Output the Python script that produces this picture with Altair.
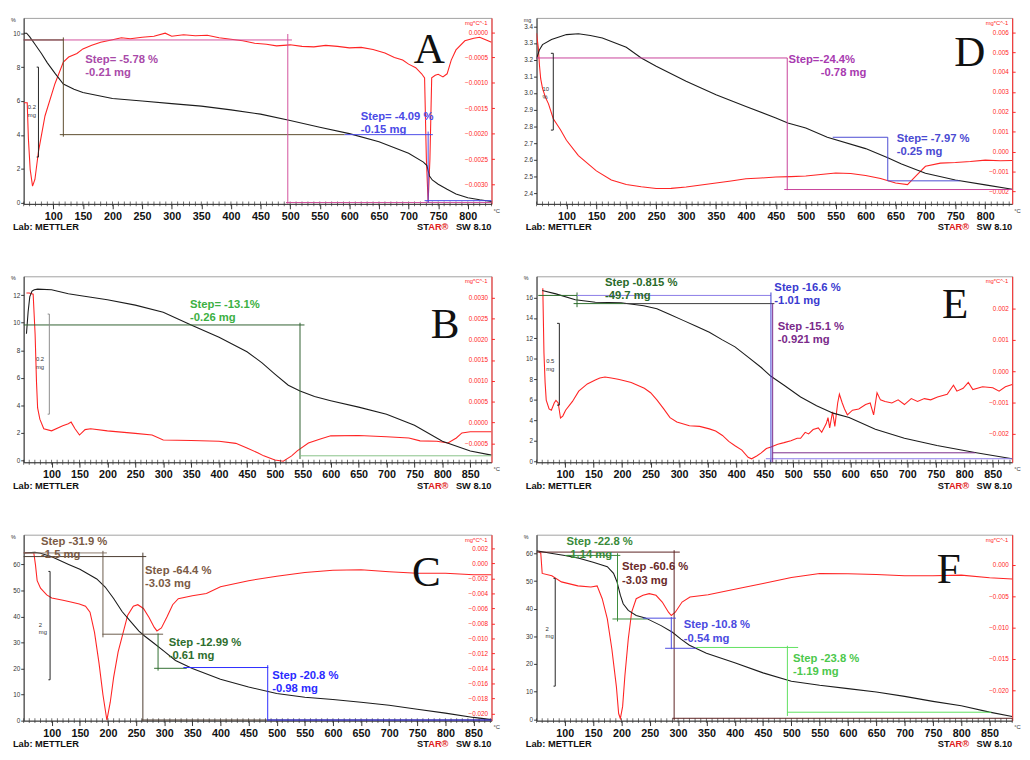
import altair as alt
import pandas as pd

WL, WR, H = 478, 486, 190

# ---------------- Panel A ----------------
A_TG_T = [50,55,60,70,80,90,103,117,135,150,200,250,300,350,400,450,500,550,600,650,700,725,731,735,740,750,765,780,800,820,840]
A_TG_V = [10.0,10.0,9.8,9.3,8.8,8.25,7.63,7.0,6.7,6.5,6.15,6.0,5.85,5.7,5.48,5.23,4.85,4.46,4.08,3.6,2.92,2.4,2.2,1.6,1.35,1.1,0.8,0.52,0.3,0.18,0.08]
A_DTG_T = [50,56,58,61,65,69,75,86,103,117,126,140,150,165,180,200,215,230,250,270,289,300,320,340,360,380,400,420,440,460,477,500,520,540,560,580,600,620,640,660,676,690,700,712,722,727,730,733,736,739,745,750,758,765,772,780,795,810,820,830,840]
A_DTG_V = [-0.00139,-0.00139,-0.0021,-0.0027,-0.00303,-0.0029,-0.00235,-0.00165,-0.00101,-0.00059,-0.00049,-0.00042,-0.00033,-0.00026,-0.0002,-0.00015,-0.00011,-0.00013,-0.0001,-0.00008,-0.00002,-0.00008,-0.00005,-0.00007,-0.00006,-0.00011,-0.00014,-0.00017,-0.00022,-0.00024,-0.00027,-0.00025,-0.00028,-0.00029,-0.00026,-0.00028,-0.00031,-0.0003,-0.00034,-0.00041,-0.0005,-0.00055,-0.00063,-0.0007,-0.00082,-0.0009,-0.0025,-0.00335,-0.0025,-0.0009,-0.00085,-0.00083,-0.00088,-0.00082,-0.00055,-0.00035,-0.00017,-0.00012,-0.0001,-0.00015,-0.0002]
A_SEGS = [(50,9.6,503,9.6,'a_mag'),(50,9.6,117,9.6,'a_olive'),(117,9.75,117,3.9,'a_olive'),(111,4.02,592,4.02,'a_olive'),
          (496,9.95,496,-0.06,'a_mag'),(493,0.02,840,0.02,'a_mag'),(592,4.02,741,4.02,'blue'),(733,4.2,733,0.0,'blue'),
          (727,0.13,840,0.13,'blue'),(75,8.0,75,2.7,'blk'),(72,8.0,75,8.0,'blk'),(72,2.7,75,2.7,'blk')]
A_TEXTS = [(154,8.79,'Step= -5.78 %\n-0.21 mg','a_magtxt'),(619,5.42,'Step= -4.09 %\n-0.15 mg','blue')]
A_SMALL = [(57,5.8,'0.2\nmg')]
A_LETTER = [(735,8.98,'A')]

# ---------------- Panel D ----------------
D_TG_T = [50,55,60,75,100,120,140,160,200,225,250,300,350,400,450,470,500,536,600,637,660,700,750,800,845]
D_TG_V = [3.206,3.26,3.29,3.32,3.35,3.355,3.345,3.33,3.274,3.21,3.16,3.07,2.99,2.92,2.85,2.82,2.79,2.735,2.667,2.612,2.575,2.52,2.479,2.45,2.424]
D_DTG_T = [50,53,55,57,60,65,70,78,90,100,120,150,175,200,225,250,275,300,325,350,375,400,425,450,475,500,525,550,575,600,625,650,670,685,700,725,750,775,800,825,845]
D_DTG_V = [0.00595,0.0052,0.0043,0.00365,0.00318,0.00272,0.0024,0.00165,0.0011,0.00057,-0.0002,-0.00097,-0.00143,-0.00166,-0.00177,-0.00186,-0.00185,-0.00178,-0.00168,-0.00158,-0.00148,-0.00137,-0.00133,-0.00128,-0.00126,-0.00123,-0.00115,-0.00108,-0.0011,-0.0012,-0.00135,-0.00158,-0.00166,-0.0012,-0.00074,-0.00058,-0.00055,-0.0005,-0.00043,-0.00046,-0.00045]
D_SEGS = [(50,3.21,469,3.21,'d_mag'),(469,3.21,469,2.418,'d_mag'),(464,2.422,845,2.422,'d_mag'),
          (545,2.735,637,2.735,'d_blue'),(637,2.735,637,2.474,'d_blue'),(637,2.474,757,2.474,'d_blue'),
          (78,3.238,78,2.778,'blk'),(74,3.238,78,3.238,'blk'),(74,2.778,78,2.778,'blk')]
D_TEXTS = [(471,3.232,'Step=-24.4%','d_magtxt'),(525,3.155,'-0.78 mg','d_magtxt'),(652,2.76,'Step= -7.97 %\n-0.25 mg','d_blue')]
D_SMALL = [(60,3.04,'10\n%')]
D_LETTER = [(774,3.24,'D')]

# ---------------- Panel B ----------------
B_TG_T = [55,58,61,65,69,75,100,130,150,200,250,300,350,400,450,477,500,524,545,571,600,650,700,750,800,850,888]
B_TG_V = [9.2,10.8,11.9,12.3,12.4,12.44,12.4,12.1,11.98,11.67,11.28,10.77,9.84,8.95,7.9,7.09,6.28,5.47,5.05,4.65,4.35,3.88,3.37,2.56,1.4,0.7,0.4]
B_DTG_T = [55,60,67,70.5,73,75,79,86,100,120,130,135,142,150,160,170,200,250,280,300,350,400,430,450,470,480,500,515,530,540,560,580,600,650,700,740,760,790,810,825,835,850,888]
B_DTG_V = [0.00311,0.00311,0.00308,0.00212,0.00097,0.00035,0.00008,-0.00015,-0.0002,-0.00008,-0.00003,0.00001,-0.00015,-0.0003,-0.00017,-0.00015,-0.0002,-0.00026,-0.0003,-0.00042,-0.00043,-0.00045,-0.0005,-0.00061,-0.00073,-0.0008,-0.0009,-0.00093,-0.0008,-0.00068,-0.00049,-0.0004,-0.00032,-0.00031,-0.00034,-0.00037,-0.00044,-0.00045,-0.00049,-0.00037,-0.00025,-0.00022,-0.00022]
B_SEGS = [(50,9.84,553,9.84,'b_dgreen'),(545,10.0,545,0.12,'b_dgreen'),(545,0.35,888,0.35,'b_lgreen'),
          (96,10.63,96,3.37,'gray'),(93,10.63,96,10.63,'gray'),(93,3.37,96,3.37,'gray')]
B_TEXTS = [(348,11.74,'Step= -13.1%\n-0.26 mg','b_green')]
B_SMALL = [(72,7.56,'0.2\nmg')]
B_LETTER = [(805,9.84,'B')]

# ---------------- Panel E ----------------
E_TG_T = [60,84,118,153,198,238,261,284,307,330,353,375,398,421,444,461,484,513,541,570,598,644,695,752,821,884]
E_TG_V = [16.69,16.35,15.77,15.54,15.48,15.19,14.9,14.33,13.76,13.18,12.6,11.88,11.17,10.16,9.15,8.29,7.42,6.27,5.41,4.69,4.26,3.11,2.24,1.53,0.81,0.23]
E_DTG_T = [61,63,65,67,72,76,81,84,88,92,96,101,113,124,139,153,161,170,181,193,204,216,227,239,250,261,273,284,296,318,336,353,364,376,387,398,410,421,427,436,444,453,461,473,484,496,507,513,521,527,535,544,550,558,561,564,569,573,578,581,586,590,595,604,615,627,635,641,647,653,661,673,684,695,707,718,730,741,753,770,781,787,798,807,815,832,850,861,872,884]
E_DTG_V = [0.00266,0.00059,-0.00036,-0.00093,-0.00121,-0.00125,-0.00102,-0.00094,-0.00102,-0.0015,-0.00144,-0.00125,-0.00097,-0.00064,-0.00041,-0.00028,-0.00022,-0.00019,-0.00022,-0.00026,-0.00031,-0.00036,-0.00045,-0.00055,-0.00069,-0.00092,-0.00121,-0.00149,-0.00163,-0.00175,-0.00177,-0.00185,-0.00192,-0.00206,-0.00225,-0.00239,-0.00253,-0.00276,-0.00281,-0.00272,-0.00262,-0.00248,-0.00243,-0.00234,-0.00229,-0.00223,-0.00215,-0.00215,-0.00196,-0.00201,-0.00187,-0.00182,-0.00196,-0.00168,-0.00149,-0.00182,-0.0013,-0.00177,-0.00102,-0.00074,-0.00102,-0.00121,-0.0014,-0.00125,-0.00121,-0.00107,-0.00102,-0.0014,-0.00069,-0.00092,-0.00097,-0.00102,-0.00092,-0.00107,-0.00088,-0.00097,-0.00088,-0.00092,-0.00083,-0.00074,-0.00045,-0.00064,-0.00055,-0.00036,-0.00059,-0.0005,-0.00053,-0.00064,-0.0005,-0.00043]
E_SEGS = [(53,16.2,121,16.2,'e_dgreen'),(121,16.49,121,15.05,'e_dgreen'),(115,15.4,203,15.4,'e_dgreen'),
          (121,16.2,461,16.2,'e_lpurple'),(203,15.4,467,15.4,'dark'),(461,16.49,461,-0.1,'e_blue'),
          (452,0.23,884,0.23,'e_lpurple'),(464,15.4,464,-0.1,'e_purple'),(464,0.81,819,0.81,'e_purple'),
          (90,13.47,90,5.47,'blk'),(86,13.47,90,13.47,'blk'),(86,5.47,90,5.47,'blk')]
E_TEXTS = [(170,18.0,'Step -0.815 %\n-49.7 mg','e_dgreen'),(467,17.5,'Step -16.6 %\n-1.01 mg','e_blue'),(473,13.7,'Step -15.1 %\n-0.921 mg','e_purple')]
E_SMALL = [(67,10.07,'0.5\nmg')]
E_LETTER = [(784,15.2,'E')]

# ---------------- Panel C ----------------
C_TG_T = [50,70,80,100,130,150,180,195,210,225,240,255,265,280,300,320,350,400,450,500,550,600,650,700,750,800,850,882]
C_TG_V = [64.4,64.6,64.3,62.9,60.0,58.1,54.4,51.3,46.9,41.9,38.1,34.4,32.5,30.0,26.6,23.1,20.0,15.9,12.9,10.4,9.0,8.1,7.1,5.9,4.4,2.9,1.25,0.4]
C_DTG_T = [50,60,68,71,74,80,91,100,120,132,149,160,168,176,184,191,198,204,210,218,226,235,245,253,263,273,282,287,295,305,315,325,350,375,400,450,500,550,600,650,700,750,800,850,882]
C_DTG_V = [0.00143,0.00143,0.00143,-0.0002,-0.0023,-0.0033,-0.0042,-0.0046,-0.0049,-0.0051,-0.0054,-0.0057,-0.0065,-0.0092,-0.0133,-0.0175,-0.0209,-0.0185,-0.0152,-0.0118,-0.0095,-0.0069,-0.0057,-0.0055,-0.006,-0.0072,-0.0085,-0.009,-0.0086,-0.0071,-0.0055,-0.0047,-0.0043,-0.004,-0.0031,-0.0023,-0.0017,-0.0012,-0.0009,-0.00085,-0.0011,-0.0013,-0.0013,-0.0015,-0.0015]
C_SEGS = [(50,64.4,198,64.4,'c_lbrown'),(191,65.2,191,32.0,'c_brown'),(190,33.2,298,33.2,'c_brown'),
          (50,63.0,268,63.0,'c_dbrown'),(262,64.5,262,0.0,'c_dbrown'),(260,0.25,882,0.25,'c_dbrown'),
          (289,33.5,289,19.2,'c_green'),(282,20.1,340,20.1,'c_green'),
          (334,20.4,485,20.4,'c_blue'),(484,21.3,484,0.0,'c_blue'),(484,0.25,882,0.25,'c_blue'),
          (97,57.3,97,15.7,'blk'),(94,57.3,97,57.3,'blk'),(94,15.7,97,15.7,'blk')]
C_TEXTS = [(81,70.8,'Step -31.9 %\n-1.5 mg','c_browntxt'),(266,59.8,'Step -64.4 %\n-3.03 mg','c_browntxt'),
           (308,32.2,'Step -12.99 %\n-0.61 mg','c_green'),(492,19.3,'Step -20.8 %\n-0.98 mg','c_blue')]
C_SMALL = [(77,38,'2\nmg')]
C_LETTER = [(766,56.4,'C')]

# ---------------- Panel F ----------------
F_TG_T = [50,75,100,125,150,175,186,192,198,203,212,226,242,270,290,305,320,350,400,450,500,550,600,650,700,750,800,850,890]
F_TG_V = [61.0,60.1,59.3,58.3,56.8,55.2,52.8,49.8,44.9,41.8,39.4,37.6,36.7,33.9,31.5,29.0,26.8,23.9,20.5,16.8,13.8,12.3,11.1,9.9,8.3,6.5,4.9,2.6,1.0]
F_DTG_T = [54,57.5,60,77,94,123,146,157,166,175,183,191,195,198,202,206,212,218,226,238,249,261,272,283,288,295,307,321,353,400,450,500,550,600,650,700,750,800,850,890]
F_DTG_V = [0.00215,0.00188,-0.00134,-0.00172,-0.00269,-0.00333,-0.0035,-0.00333,-0.00538,-0.0086,-0.0134,-0.0194,-0.0237,-0.0245,-0.0226,-0.0177,-0.0118,-0.0075,-0.00538,-0.00484,-0.00457,-0.00484,-0.00591,-0.00753,-0.00806,-0.00753,-0.00591,-0.00511,-0.00473,-0.00387,-0.00296,-0.00199,-0.00134,-0.0014,-0.00151,-0.00172,-0.00172,-0.00161,-0.00204,-0.00222]
F_SEGS = [(100,59.3,198,59.3,'f_green'),(193,60.1,193,35.4,'f_green'),(184,36.3,245,36.3,'f_green'),
          (50,60.5,303,60.5,'f_maroon'),(293,61.2,293,-0.4,'f_maroon'),(290,0.37,890,0.37,'f_maroon'),
          (238,36.6,296,36.6,'f_blue'),(288,37.0,288,25.4,'f_blue'),(277,25.7,332,25.7,'f_blue'),
          (332,26.0,512,26.0,'f_lgreen'),(493,26.6,493,1.2,'f_lgreen'),(493,2.56,853,2.56,'f_lgreen'),
          (83,51.0,83,12.0,'blk'),(80,51.0,83,51.0,'blk'),(80,12.0,83,12.0,'blk')]
F_TEXTS = [(103,66.2,'Step -22.8 %\n-1.14 mg','f_green'),(201,57.1,'Step -60.6 %\n-3.03 mg','f_maroontxt'),
           (310,36.1,'Step -10.8 %\n-0.54 mg','f_blue'),(503,23.9,'Step -23.8 %\n-1.19 mg','f_lgreentxt')]
F_SMALL = [(66,33.9,'2\nmg')]
F_LETTER = [(778,54,'F')]

# ---------------- axes ----------------
XT_800 = [100,150,200,250,300,350,400,450,500,550,600,650,700,750,800]
XT_850 = [100,150,200,250,300,350,400,450,500,550,600,650,700,750,800,850]

PAL = {
    'blk': '#222222', 'gray': '#8a8a8a', 'dark': '#3a3a3a', 'blue': '#4a4ae6',
    'a_mag': '#d2509c', 'a_magtxt': '#a94aa9', 'a_olive': '#5a4a2a',
    'd_mag': '#c8409a', 'd_magtxt': '#a83ab0', 'd_blue': '#4a4ad2',
    'b_dgreen': '#2e5e2e', 'b_lgreen': '#86c286', 'b_green': '#3cb043',
    'e_dgreen': '#2a6a2a', 'e_lpurple': '#8a7ae6', 'e_blue': '#3a3ad0', 'e_purple': '#7a2a8a',
    'c_lbrown': '#8a7a6a', 'c_brown': '#6a5a4a', 'c_dbrown': '#4a3a2e', 'c_browntxt': '#7a5a45',
    'c_green': '#2e6e2e', 'c_blue': '#2a2aff',
    'f_green': '#3a8a3a', 'f_maroon': '#5a2020', 'f_maroontxt': '#6a2a2a', 'f_blue': '#4a4ae0',
    'f_lgreen': '#5ee05e', 'f_lgreentxt': '#4cc84c',
}

PANELS = {
    'A': dict(tg=(A_TG_T, A_TG_V), dtg=(A_DTG_T, A_DTG_V), segs=A_SEGS, texts=A_TEXTS, small=A_SMALL, letter=A_LETTER,
              xdom=[50, 840], ldom=[-0.06, 10.9], rdom=[-0.00338, 0.00028], xt=XT_800,
              lt=[0, 2, 4, 6, 8, 10], lfmt='d', rt=[0.0, -0.0005, -0.001, -0.0015, -0.002, -0.0025, -0.003], rfmt='.4f', unit='%'),
    'D': dict(tg=(D_TG_T, D_TG_V), dtg=(D_DTG_T, D_DTG_V), segs=D_SEGS, texts=D_TEXTS, small=D_SMALL, letter=D_LETTER,
              xdom=[50, 845], ldom=[2.336, 3.45], rdom=[-0.00263, 0.00672], xt=XT_800,
              lt=[2.4, 2.5, 2.6, 2.7, 2.8, 2.9, 3.0, 3.1, 3.2, 3.3, 3.4], lfmt='.1f',
              rt=[0.006, 0.005, 0.004, 0.003, 0.002, 0.001, 0.0, -0.001, -0.002], rfmt='.3f', unit='mg'),
    'B': dict(tg=(B_TG_T, B_TG_V), dtg=(B_DTG_T, B_DTG_V), segs=B_SEGS, texts=B_TEXTS, small=B_SMALL, letter=B_LETTER,
              xdom=[50, 888], ldom=[-0.12, 13.37], rdom=[-0.000954, 0.00351], xt=XT_850,
              lt=[0, 2, 4, 6, 8, 10, 12], lfmt='d', rt=[0.003, 0.0025, 0.002, 0.0015, 0.001, 0.0005, 0.0, -0.0005], rfmt='.4f', unit='%'),
    'E': dict(tg=(E_TG_T, E_TG_V), dtg=(E_DTG_T, E_DTG_V), segs=E_SEGS, texts=E_TEXTS, small=E_SMALL, letter=E_LETTER,
              xdom=[50, 884], ldom=[-0.115, 18.07], rdom=[-0.00292, 0.00304], xt=XT_850,
              lt=[0, 2, 4, 6, 8, 10, 12, 14, 16], lfmt='d', rt=[0.002, 0.001, 0.0, -0.001, -0.002], rfmt='.3f', unit='%'),
    'C': dict(tg=(C_TG_T, C_TG_V), dtg=(C_DTG_T, C_DTG_V), segs=C_SEGS, texts=C_TEXTS, small=C_SMALL, letter=C_LETTER,
              xdom=[50, 882], ldom=[0, 71.4], rdom=[-0.02096, 0.00383], xt=XT_850,
              lt=[0, 10, 20, 30, 40, 50, 60], lfmt='d',
              rt=[0.002, 0.0, -0.002, -0.004, -0.006, -0.008, -0.01, -0.012, -0.014, -0.016, -0.018, -0.02], rfmt='.3f', unit='%'),
    'F': dict(tg=(F_TG_T, F_TG_V), dtg=(F_DTG_T, F_DTG_V), segs=F_SEGS, texts=F_TEXTS, small=F_SMALL, letter=F_LETTER,
              xdom=[50, 890], ldom=[-0.49, 66.8], rdom=[-0.02484, 0.00484], xt=XT_850,
              lt=[0, 10, 20, 30, 40, 50, 60], lfmt='d', rt=[0.0, -0.005, -0.01, -0.015, -0.02], rfmt='.3f', unit='%'),
}

RED = '#ff2424'
FONT = 'Liberation Sans'


def label(s, x, y, align, size, color, weight='normal', baseline='middle', font=FONT):
    return alt.Chart(pd.DataFrame({'s': [s]})).mark_text(
        align=align, baseline=baseline, font=font, fontSize=size, fontWeight=weight, color=color).encode(
        x=alt.value(x), y=alt.value(y), text='s:N')


def panel(P, W):
    xs = alt.Scale(domain=P['xdom'], nice=False, zero=False)
    sl = alt.Scale(domain=P['ldom'], nice=False, zero=False)
    sr = alt.Scale(domain=P['rdom'], nice=False, zero=False)
    xaxis = alt.Axis(values=P['xt'], title=None, grid=False, labelFontSize=11, labelFontWeight='bold',
                     labelFont=FONT, labelColor='#111', tickSize=5, tickColor='#333', domainColor='#333',
                     labelPadding=2)
    X = alt.X('t:Q', scale=xs, axis=xaxis)
    YL = alt.Y('v:Q', scale=sl, axis=None)

    dtg = alt.Chart(pd.DataFrame({'t': P['dtg'][0], 'v': P['dtg'][1]})).mark_line(
        color=RED, strokeWidth=1.1, clip=True).encode(
        x=X,
        y=alt.Y('v:Q', scale=sr, axis=alt.Axis(orient='right', values=P['rt'], format=P['rfmt'], title=None,
                                               grid=False, labelFontSize=6.5, labelColor=RED, tickColor=RED,
                                               domainColor=RED, tickSize=3, labelAlign='right', labelPadding=-7,
                                               labelFont=FONT)))
    tg = alt.Chart(pd.DataFrame({'t': P['tg'][0], 'v': P['tg'][1]})).mark_line(
        color='#1c1c1c', strokeWidth=1.1, clip=True).encode(
        x=X,
        y=alt.Y('v:Q', scale=sl, axis=alt.Axis(orient='left', values=P['lt'], format=P['lfmt'], title=None,
                                               grid=False, labelFontSize=6.5, labelColor='#333', tickColor='#333',
                                               domainColor='#333', tickSize=3, labelPadding=1, labelFont=FONT)))
    # minor ticks along the temperature axis (every 10 degrees)
    minor = pd.DataFrame({'t': list(range(50, int(P['xdom'][1]) + 1, 10))})
    ticks = alt.Chart(minor).mark_tick(color='#333', thickness=1, size=5).encode(x=X, y=alt.value(H))

    seg = pd.DataFrame(P['segs'], columns=['t', 'v', 't2', 'v2', 'k'])
    seg['c'] = seg['k'].map(PAL)
    rules = alt.Chart(seg).mark_rule(strokeWidth=1).encode(
        x=X, x2='t2:Q', y=YL, y2='v2:Q', color=alt.Color('c:N', scale=None))

    txt = pd.DataFrame(P['texts'], columns=['t', 'v', 's', 'k'])
    txt['c'] = txt['k'].map(PAL)
    texts = alt.Chart(txt).mark_text(align='left', baseline='top', font=FONT, fontSize=11.5, fontWeight='bold',
                                     lineBreak='\n', lineHeight=13.5).encode(
        x=X, y=YL, text='s:N', color=alt.Color('c:N', scale=None))

    sm = pd.DataFrame(P['small'], columns=['t', 'v', 's'])
    small = alt.Chart(sm).mark_text(align='left', baseline='top', font=FONT, fontSize=6, lineBreak='\n',
                                    color='#333').encode(x=X, y=YL, text='s:N')

    lt = pd.DataFrame(P['letter'], columns=['t', 'v', 's'])
    letter = alt.Chart(lt).mark_text(align='center', baseline='middle', font='Liberation Serif', fontSize=44,
                                     color='#111').encode(x=X, y=YL, text='s:N')

    fy = H + 24
    lab = label('Lab: METTLER', -11, fy, 'left', 9.5, '#111', 'bold')
    star3 = label('SW 8.10', W, fy, 'right', 9.5, '#111', 'bold')
    star2 = label('AR\u00ae', W - 44, fy, 'right', 9.5, '#e02020', 'bold')
    star1 = label('ST', W - 64, fy, 'right', 9.5, '#111', 'bold')
    u1 = label(P['unit'], -13, 0, 'left', 5.5, '#333', baseline='top')
    u2 = label('mg*C^-1', W - 4, 5, 'right', 6, RED)
    deg = label('\u00b0C', W + 2, H + 7, 'left', 6, '#333')

    return alt.layer(dtg, tg, ticks, rules, texts, small, letter, lab, star1, star2, star3, u1, u2, deg).resolve_scale(
        y='independent').properties(width=W, height=H)


rows = []
for left, right in [('A', 'D'), ('B', 'E'), ('C', 'F')]:
    rows.append(alt.hconcat(panel(PANELS[left], WL), panel(PANELS[right], WR), spacing=22))

chart = alt.vconcat(*rows, spacing=44).configure_view(stroke='#a0a0a0', strokeWidth=1).properties(
    background='white', padding={'left': 2, 'top': 1, 'right': 0, 'bottom': 0})

chart.save("out.html", embed_options={"renderer": "svg", "actions": False})
